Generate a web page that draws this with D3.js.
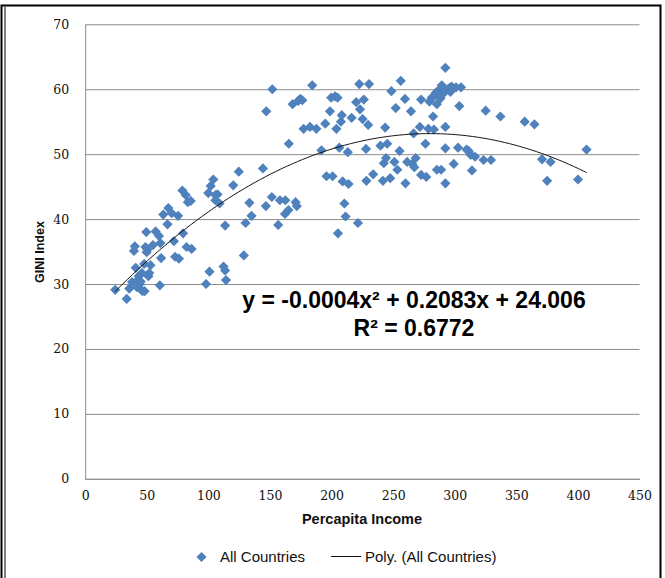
<!DOCTYPE html>
<html>
<head>
<meta charset="utf-8">
<script src="https://cdn.jsdelivr.net/npm/d3@7"></script>
<style>
  html, body { margin: 0; padding: 0; background: #fff; }
  svg { display: block; }
</style>
</head>
<body>
<svg id="chart" width="665" height="578"></svg>
<script>
// ---- data ----
const incomeValues = [
  24.4, 33.7, 35.8, 39.6, 40.3, 41.0, 42.0, 44.4, 43.4, 46.5, 48.2, 48.9, 49.6, 49.9, 51.3, 52.0,
  46.1, 42.7, 47.9, 53.0, 57.2, 59.9, 61.6, 60.6, 61.0, 63.4, 66.8, 67.5, 70.2, 72.0, 73.0, 76.1,
  75.4, 78.9, 79.5, 81.6, 82.3, 83.3, 85.7, 86.4, 38.0, 45.0, 50.5, 55.0,
  98.1, 100.9, 99.9, 101.9, 104.0, 105.7, 105.7, 107.4, 109.1, 112.3, 113.6, 114.3, 113.6, 120.2,
  124.7, 128.8, 130.2, 133.3, 135.0, 144.3, 146.7, 147.0, 151.9, 151.5, 156.7, 158.1, 162.5, 162.2,
  165.0, 165.3, 168.4, 170.8, 171.8, 172.9, 174.6, 176.3, 177.3, 182.5, 184.3, 187.7, 191.8, 194.9,
  195.9, 198.7, 199.7, 200.8, 202.8, 203.9, 204.9, 205.2, 206.3, 207.6, 208.3, 209.0, 210.4, 211.4,
  213.2, 213.8, 216.3, 220.0, 221.4, 222.5, 223.1, 225.2, 226.2, 228.0, 228.3, 229.7, 230.4, 233.8,
  239.7, 241.7, 242.4, 243.5, 244.2, 245.2, 247.6, 248.6, 251.0, 252.1, 253.4, 255.2, 256.2, 259.6,
  260.0, 261.4, 264.5, 265.5, 266.6, 267.2, 268.3, 271.7, 272.7, 272.7, 276.2, 276.9, 278.6, 281.3,
  282.4, 283.1, 284.8, 285.5, 285.5, 287.2, 289.0, 290.6, 292.4, 292.4, 292.4, 292.4, 292.4, 295.9,
  297.5, 299.2, 301.0, 302.7, 303.7, 305.1, 309.6, 311.3, 313.0, 314.0, 316.5, 323.4, 325.1, 329.5,
  337.1, 356.8, 364.7, 370.9, 375.0, 377.8, 400.1, 407.0,
  286.5, 288.5, 291.0, 294.0, 283.0, 279.5, 289.5, 296.5
];
const giniValues = [
  29.1, 27.7, 29.3, 35.1, 35.8, 32.5, 29.5, 30.0, 31.2, 28.9, 28.9, 35.7, 38.0, 34.9, 31.2, 31.7,
  31.7, 30.6, 33.1, 32.9, 38.1, 37.4, 34.0, 29.8, 36.3, 40.7, 39.2, 41.7, 40.9, 36.6, 34.2, 33.9,
  40.5, 44.4, 37.8, 43.7, 35.7, 42.6, 42.8, 35.4, 30.3, 30.4, 35.3, 36.0,
  30.0, 31.9, 44.0, 45.1, 46.1, 43.7, 42.9, 43.8, 42.4, 32.7, 32.1, 30.6, 39.0, 45.2,
  47.3, 34.4, 39.4, 42.5, 40.5, 47.8, 42.0, 56.6, 60.0, 43.4, 39.1, 42.9, 42.9, 40.8,
  41.4, 51.6, 57.7, 42.6, 42.0, 58.2, 58.5, 58.3, 53.9, 54.2, 60.6, 53.9, 50.6, 54.7,
  46.6, 56.6, 58.7, 46.6, 58.9, 53.9, 58.7, 37.8, 51.0, 55.0, 56.0, 45.8, 42.4, 40.4,
  50.3, 45.4, 55.6, 58.0, 39.4, 60.8, 56.9, 55.4, 58.4, 50.8, 45.9, 54.5, 60.8, 46.9,
  51.3, 45.9, 48.6, 54.1, 49.4, 51.6, 46.3, 59.7, 48.8, 57.1, 47.6, 50.5, 61.3, 58.5,
  45.5, 48.8, 56.6, 48.5, 53.2, 48.0, 49.4, 54.2, 58.4, 46.8, 51.6, 46.5, 53.9, 58.7,
  55.8, 53.8, 59.5, 57.7, 47.6, 59.9, 47.6, 59.3, 63.3, 59.9, 54.2, 50.9, 45.5, 60.2,
  60.4, 48.5, 60.3, 51.0, 57.4, 60.3, 50.7, 50.5, 49.9, 47.5, 49.6, 49.1, 56.7, 49.1,
  55.8, 55.0, 54.6, 49.2, 45.9, 48.8, 46.1, 50.7,
  59.2, 58.6, 59.6, 60.0, 58.9, 58.1, 60.6, 59.6
];
const xTicks = [0, 50, 100, 150, 200, 250, 300, 350, 400, 450];
const yTicks = [0, 10, 20, 30, 40, 50, 60, 70];
// Excel polynomial trendline (order 2) as fitted to the series
const trendCoefficients = [24.006, 0.2083, -0.000372];
const trendRange = [24.4, 407];
const seriesName = "All Countries";
const trendName = "Poly. (All Countries)";

// ---- drawing ----
const svg = d3.select("#chart");
const plot = { left: 85.2, right: 639.5, top: 24.3, bottom: 478.8 };

const x = d3.scaleLinear().domain([0, 450]).range([plot.left, plot.right]);
const y = d3.scaleLinear().domain([0, 70]).range([plot.bottom, plot.top]);

const sans = "Liberation Sans, Arial, sans-serif";

// outer frame
svg.append("rect").attr("x", 1.5).attr("y", 5.5).attr("width", 659).attr("height", 590)
  .attr("fill", "none").attr("stroke", "#000").attr("stroke-width", 2);
svg.append("line").attr("x1", 5).attr("x2", 5).attr("y1", 7).attr("y2", 578)
  .attr("stroke", "#000").attr("stroke-width", 1);

// gridlines
const grid = svg.append("g").attr("transform", `translate(${plot.left},0)`)
  .call(d3.axisLeft(y).tickValues(yTicks).tickSize(-(plot.right - plot.left)).tickFormat(""));
grid.select(".domain").remove();
grid.selectAll(".tick line").attr("stroke", "#8c8c8c").attr("stroke-width", 1);

// y axis
const yAxis = svg.append("g").attr("transform", `translate(${plot.left},0)`)
  .call(d3.axisLeft(y).tickValues(yTicks).tickSize(0).tickPadding(16));
yAxis.select(".domain").attr("stroke", "#8c8c8c");
yAxis.selectAll("text").attr("font-family", "DejaVu Serif").attr("font-size", 12.5)
  .attr("fill", "#111");

// x axis
const xAxis = svg.append("g").attr("transform", `translate(0,${plot.bottom})`)
  .call(d3.axisBottom(x).tickValues(xTicks).tickSize(0).tickPadding(12));
xAxis.select(".domain").attr("stroke", "#8c8c8c");
xAxis.selectAll("text").attr("font-family", "DejaVu Serif").attr("font-size", 12.5)
  .attr("fill", "#111");

// axis titles
svg.append("text").attr("x", 362).attr("y", 524).attr("text-anchor", "middle")
  .attr("font-family", sans).attr("font-weight", "bold")
  .attr("font-size", 14.5).attr("fill", "#111").text("Percapita Income");
svg.append("text").attr("transform", "translate(44,252) rotate(-90)").attr("text-anchor", "middle")
  .attr("font-family", sans).attr("font-weight", "bold")
  .attr("font-size", 12.5).attr("fill", "#111").text("GINI Index");

// points
const points = incomeValues.map((v, i) => ({ income: v, gini: giniValues[i] }));
const diamond = d3.symbol().type(d3.symbolSquare).size(52);
svg.append("g").selectAll("path").data(points).join("path")
  .attr("d", diamond)
  .attr("transform", d => `translate(${x(d.income)},${y(d.gini)}) rotate(45)`)
  .attr("fill", "#4f81bd");

// trendline
const trendX = d3.range(trendRange[0], trendRange[1], 2).concat([trendRange[1]]);
const trendPts = trendX.map(v => [v, trendCoefficients[0] + trendCoefficients[1] * v + trendCoefficients[2] * v * v]);
svg.append("path").datum(trendPts)
  .attr("d", d3.line().x(d => x(d[0])).y(d => y(d[1])).curve(d3.curveMonotoneX))
  .attr("fill", "none").attr("stroke", "#111").attr("stroke-width", 1);

// equation
svg.append("text").attr("x", 414).attr("y", 308).attr("text-anchor", "middle")
  .attr("font-family", sans).attr("font-weight", "bold")
  .attr("font-size", 23).attr("fill", "#000")
  .text("y = -0.0004x² + 0.2083x + 24.006");
svg.append("text").attr("x", 414).attr("y", 336).attr("text-anchor", "middle")
  .attr("font-family", sans).attr("font-weight", "bold")
  .attr("font-size", 23).attr("fill", "#000")
  .text("R² = 0.6772");

// legend
const lg = svg.append("g");
lg.append("path").attr("d", diamond).attr("transform", "translate(201.5,557) rotate(45)")
  .attr("fill", "#4f81bd");
lg.append("text").attr("x", 220).attr("y", 562).attr("font-family", sans)
  .attr("font-size", 15).attr("fill", "#111").text(seriesName);
lg.append("line").attr("x1", 331).attr("x2", 361).attr("y1", 556.5).attr("y2", 556.5)
  .attr("stroke", "#111").attr("stroke-width", 1);
lg.append("text").attr("x", 365).attr("y", 562).attr("font-family", sans)
  .attr("font-size", 15).attr("fill", "#111").text(trendName);
</script>
</body>
</html>
